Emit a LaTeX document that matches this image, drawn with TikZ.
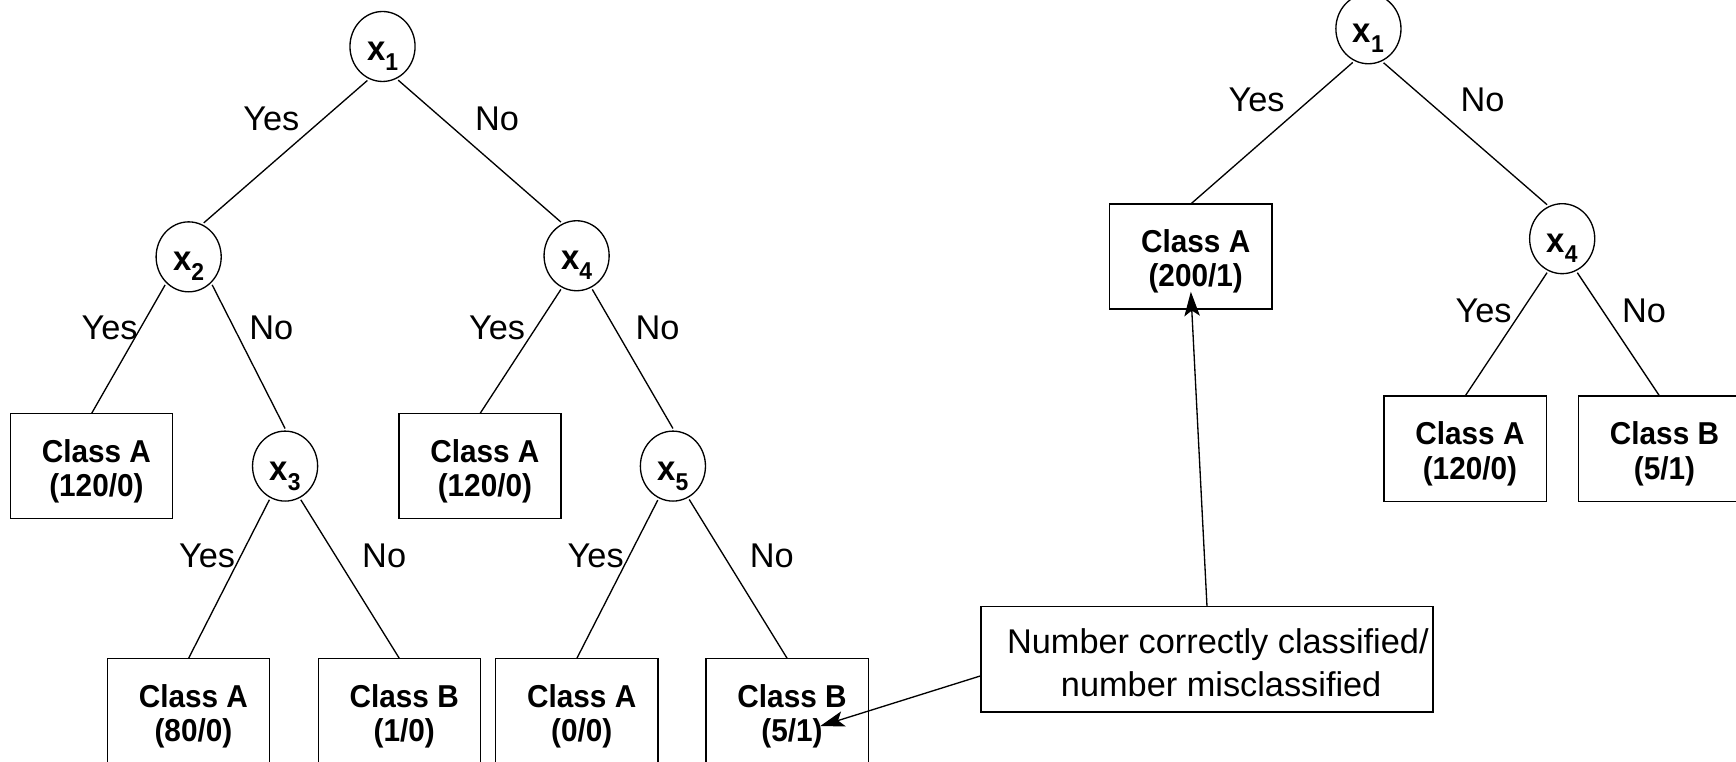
\documentclass[tikz,border=0pt]{standalone}
\usepackage{fontspec}
\setmainfont{Liberation Sans}
\newfontfamily\clsfam{Liberation Sans}[FakeStretch=0.94]
\usetikzlibrary{shapes.geometric,arrows.meta}
\newcommand\leafnode[5]{%
  \node[leafbox] (#1) at (#2,#3) {};
  \node[clstxt] (#1-a) at ([xshift=2.2pt,yshift=1.75pt]#1.center) {#4};
  \node[clstxt] (#1-b) at ([xshift=2.2pt,yshift=-13.75pt]#1.center) {#5};
}
\newcommand\varx[1]{x\raisebox{-4.5pt}{\fontsize{11}{12}\selectfont\bfseries #1}}
\begin{document}
\begin{tikzpicture}[x=0.5pt,y=-0.5pt, line width=0.6pt,
 dec/.style={ellipse, draw, minimum width=29.4pt, minimum height=31.6pt, inner sep=0pt, outer sep=1.2pt, text height=12.6pt, text depth=0pt, font=\clsfam\fontsize{15.8}{18}\selectfont\bfseries},
 leafbox/.style={rectangle, draw, minimum width=73.25pt, minimum height=47.5pt, inner sep=0pt, outer sep=0pt},
 notebox/.style={rectangle, draw, minimum width=204.25pt, minimum height=47.5pt, inner sep=0pt, outer sep=0pt},
 clstxt/.style={anchor=base, inner sep=0pt, font=\clsfam\fontsize{14.3}{15.5}\selectfont\bfseries},
 lbl/.style={inner sep=0pt, font=\fontsize{15.5}{18.6}\selectfont},
 conn/.style={draw},
 pointer/.style={-{Stealth[length=11pt,width=7pt,inset=2.5pt]}},
]
\useasboundingbox (0,0) rectangle (1568,688);
\clip (0,0) rectangle (1568,688);

% ---------- left tree ----------
\node[dec] (L1) at (345.5,42) {\varx{1}};
\node[dec] (L2) at (170.4,232) {\varx{2}};
\node[dec] (L4) at (520.8,231) {\varx{4}};
\node[dec] (L3) at (257.5,421) {\varx{3}};
\node[dec] (L5) at (607.8,421) {\varx{5}};

\leafnode{LA1}{82.7}{421}{Class A}{(120/0)}
\leafnode{LA2}{433.6}{421}{Class A}{(120/0)}
\leafnode{B1}{170.3}{642.2}{Class A}{(80/0)}
\leafnode{B2}{360.7}{642.2}{Class B}{(1/0)}
\leafnode{B3}{521}{642.2}{Class A}{(0/0)}
\leafnode{B4}{711}{642.2}{Class B}{(5/1)}

\draw[conn] (L1.-114) -- (L2.66);
\draw[conn] (L1.-65) -- (L4.115);
\draw[conn] (L2.-130) -- (LA1.north);
\draw[conn] (L2.-50) -- (L3.north);
\draw[conn] (L4.-115) -- (LA2.north);
\draw[conn] (L4.-65) -- (L5.north);
\draw[conn] (L3.-115) -- (B1.north);
\draw[conn] (L3.-65) -- (B2.north);
\draw[conn] (L5.-114) -- (B3.north);
\draw[conn] (L5.-64) -- (B4.north);

\node[lbl] (y1) at (245,107) {Yes};
\node[lbl] (n1) at (449,107) {No};
\node[lbl] (y2) at (99,296) {Yes};
\node[lbl] (n2) at (245,296) {No};
\node[lbl] (y4) at (449,296) {Yes};
\node[lbl] (n4) at (594,296) {No};
\node[lbl] (y3) at (187,502) {Yes};
\node[lbl] (n3) at (347,502) {No};
\node[lbl] (y5) at (538,502) {Yes};
\node[lbl] (n5) at (697,502) {No};

% ---------- right tree ----------
\node[dec] (R1) at (1236,26) {\varx{1}};
\node[dec] (R4) at (1411,215.6) {\varx{4}};
\leafnode{RA}{1075.6}{231.7}{Class A}{(200/1)}
\leafnode{RB1}{1323.3}{405.3}{Class A}{(120/0)}
\leafnode{RB2}{1499}{405.3}{Class B}{(5/1)}

\draw[conn] (R1.-115) -- (RA.north);
\draw[conn] (R1.-66) -- (R4.114);
\draw[conn] (R4.-114) -- (RB1.north);
\draw[conn] (R4.-66) -- (RB2.north);

\node[lbl] (ry1) at (1135,90.5) {Yes};
\node[lbl] (rn1) at (1339,90.5) {No};
\node[lbl] (ry4) at (1340,280.5) {Yes};
\node[lbl] (rn4) at (1485,280.5) {No};

% ---------- annotation ----------
\node[notebox] (note) at (1090.2,595.5) {};
\node[lbl, anchor=base] (note-a) at ([xshift=4.9pt,yshift=2.75pt]note.center) {Number correctly classified/};
\node[lbl, anchor=base] (note-b) at ([xshift=6.4pt,yshift=-16.75pt]note.center) {number misclassified};

\coordinate (tipB) at ([xshift=14.85pt,yshift=-6.85pt]B4.center);
\coordinate (tipA) at ([yshift=-15.9pt]RA.center);
\draw[pointer] ([yshift=-7.45pt]note.west) -- (tipB);
\draw[pointer] (note.north) -- (tipA);
\end{tikzpicture}
\end{document}
